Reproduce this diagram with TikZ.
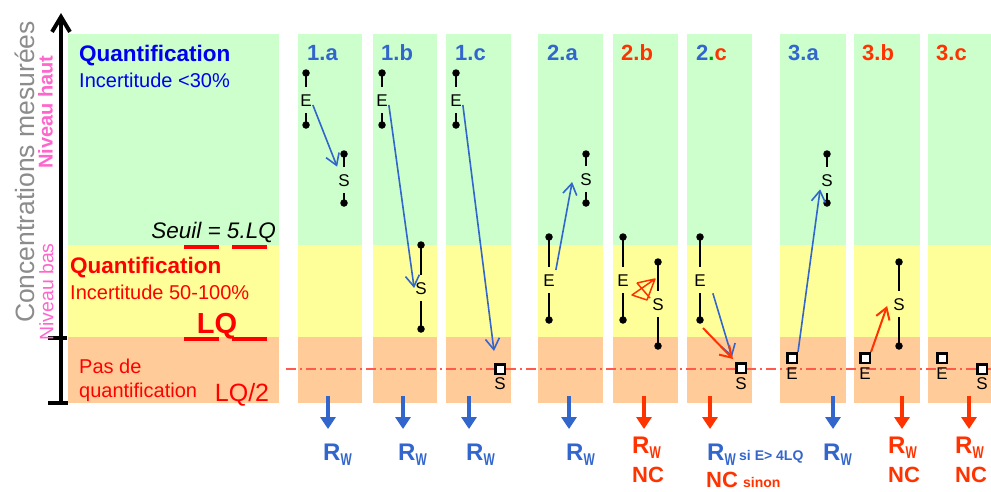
\documentclass[tikz,border=0pt]{standalone}
\usepackage{fontspec}
\setmainfont{Liberation Sans}
\usetikzlibrary{arrows.meta}
\definecolor{cgreen}{HTML}{CCFFCC}
\definecolor{cyellow}{HTML}{FFFF99}
\definecolor{corange}{HTML}{FFCC99}
\definecolor{cblue}{HTML}{3366CC}
\definecolor{cred}{HTML}{FF3300}
\definecolor{pred}{HTML}{FF0000}
\definecolor{qblue}{HTML}{0000EE}
\definecolor{cpink}{HTML}{FF66CC}
\definecolor{cgray}{HTML}{8C8C8C}
\definecolor{cdot}{HTML}{00A000}
\definecolor{dashred}{HTML}{FF5A4A}
\newcommand\fsz[1]{\fontsize{#1pt}{#1pt}\selectfont}
\newcommand\RWsym{R\raisebox{-5pt}{\fsz{17}\scalebox{0.7}[1]{W}}}
\newcommand\intv[6]{%
  \node[lett] (#1) at (#2,#4) {#6};
  \node[dotn] (#1t) at (#2,#3) {};
  \node[dotn] (#1b) at (#2,#5) {};
  \draw[seg] (#1t.center) -- (#1.north);
  \draw[seg] (#1.south) -- (#1b.center);}
\newcommand\sqv[5]{%
  \node[sq] (#1) at (#2,#3) {};
  \node[lett, inner ysep=0pt] (#1l) at (#2,#5) {#4};}
\begin{document}
\begin{tikzpicture}[x=1pt,y=-1pt,
  lett/.style={inner xsep=1pt, inner ysep=7pt, text height=12.2pt, text depth=0pt, font=\fsz{17}},
  dotn/.style={circle, fill=black, inner sep=0pt, minimum size=7.5pt},
  seg/.style={line width=2pt},
  sq/.style={draw, line width=2.5pt, fill=white, inner sep=0pt, minimum size=9.5pt},
  barr/.style={cblue, line width=1.6pt, -{Straight Barb[length=11pt,width=14pt]}},
  rarr/.style={cred, line width=2pt, -{Straight Barb[length=11pt,width=14pt]}},
  down/.style={line width=4pt, -{Triangle[length=12pt,width=15pt]}},
  collab/.style={inner sep=0pt, anchor=base west, font=\fsz{22}\bfseries},
  tx/.style={inner sep=0pt, anchor=base west},
  bl/.style={inner sep=0pt, anchor=base west, font=\fsz{24}\bfseries},
  nc/.style={inner sep=0pt, anchor=base west, font=\fsz{22}\bfseries},
  rbar/.style={pred, line width=4pt},
]
\useasboundingbox (0,0) rectangle (991,491);
\fill[white] (0,0) rectangle (991,491);

% left panel
\fill[cgreen] (68,34) rectangle (279,245);
\fill[cyellow] (68,245) rectangle (279,337);
\fill[corange] (68,337) rectangle (279,403);

% columns
\foreach \L/\R in {298/362, 372.5/437, 446/511, 538/603, 613/678, 687/752, 780/846, 854/920, 928/991} {
  \fill[cgreen] (\L,34) rectangle (\R,245);
  \fill[cyellow] (\L,245) rectangle (\R,337);
  \fill[corange] (\L,337) rectangle (\R,403);
}

% axis
\coordinate (axb) at (61,403);
\coordinate (axt) at (61,13);
\draw[line width=4pt, -{Straight Barb[length=15pt,width=18pt]}] (axb) -- (axt);
\coordinate (tk1a) at (48,403); \coordinate (tk1b) at (68,403);
\coordinate (tk2a) at (48,338); \coordinate (tk2b) at (67,338);
\draw[line width=4pt] (tk1a) -- (tk1b);
\draw[line width=4pt] (tk2a) -- (tk2b);

\node[rotate=90, inner sep=0pt, text=cgray, font=\fsz{26.5}] (conc) at (25,172) {Concentrations mesurées};
\node[rotate=90, inner sep=0pt, text=cpink, font=\fsz{20}\bfseries] (nh) at (45.5,112) {Niveau haut};
\node[rotate=90, inner sep=0pt, text=cpink, font=\fsz{19.5}] (nb) at (46.5,292) {Niveau bas};

% left panel texts
\node[tx, text=qblue, font=\fsz{22.5}\bfseries] (q1) at (79,61) {Quantification};
\node[tx, text=qblue, font=\fsz{20}] (i1) at (79,87) {Incertitude <30\%};
\node[inner sep=0pt, anchor=base east, font=\fsz{22.5}\itshape] (seuil) at (276,238) {Seuil = 5.LQ};
\node[tx, text=pred, font=\fsz{22.5}\bfseries] (q2) at (70,273) {Quantification};
\node[tx, text=pred, font=\fsz{20}] (i2) at (70,299) {Incertitude 50-100\%};
\node[inner sep=0pt, anchor=base, text=pred, font=\fsz{29}\bfseries] (lq) at (217,333) {LQ};
\node[tx, text=pred, font=\fsz{20}] (pas) at (79,373) {Pas de};
\node[tx, text=pred, font=\fsz{20}] (quant) at (79,397) {quantification};
\node[inner sep=0pt, anchor=base, text=pred, font=\fsz{25}] (lq2) at (242,401) {LQ/2};

% red bars
\coordinate (rb1) at (184,246.5); \coordinate (rb2) at (219,246.5);
\coordinate (rb3) at (232,246.5); \coordinate (rb4) at (267,246.5);
\coordinate (rb5) at (184,338.5); \coordinate (rb6) at (219,338.5);
\coordinate (rb7) at (232,338.5); \coordinate (rb8) at (267,338.5);
\draw[rbar] (rb1) -- (rb2);
\draw[rbar] (rb3) -- (rb4);
\draw[rbar] (rb5) -- (rb6);
\draw[rbar] (rb7) -- (rb8);

% dash-dot line
\coordinate (dl1) at (286,369);
\coordinate (dl2) at (991,369);
\draw[dashred, line width=1.3pt, dash pattern=on 10pt off 4pt on 2pt off 4pt] (dl1) -- (dl2);

% column labels
\node[collab, text=cblue] (l1a) at (307,60) {1.a};
\node[collab, text=cblue] (l1b) at (381,60) {1.b};
\node[collab, text=cblue] (l1c) at (455,60) {1.c};
\node[collab, text=cblue] (l2a) at (547,60) {2.a};
\node[collab, text=cred] (l2b) at (621,60) {2.b};
\node[collab] (l2c) at (696,60) {\textcolor{cblue}{2}\textcolor{cdot}{.}\textcolor{cred}{c}};
\node[collab, text=cblue] (l3a) at (788,60) {3.a};
\node[collab, text=cred] (l3b) at (862,60) {3.b};
\node[collab, text=cred] (l3c) at (936,60) {3.c};

% intervals
\intv{e1a}{306}{73}{100}{125}{E}
\intv{s1a}{344}{154}{180}{203}{S}
\intv{e1b}{382}{73}{100}{125}{E}
\intv{s1b}{421}{245}{288}{329}{S}
\intv{e1c}{456}{73}{100}{125}{E}
\sqv{s1c}{500}{369}{S}{383}
\intv{e2a}{549}{237}{280}{320}{E}
\intv{s2a}{586}{154}{179}{203}{S}
\intv{e2b}{623}{237}{280}{320}{E}
\intv{s2b}{658}{262}{304}{346}{S}
\intv{e2c}{700}{237}{280}{320}{E}
\sqv{s2c}{741}{368}{S}{383}
\sqv{e3a}{792}{358}{E}{373}
\intv{s3a}{827}{154}{180}{203}{S}
\sqv{e3b}{865}{358}{E}{373}
\intv{s3b}{899}{262}{304}{346}{S}
\sqv{e3c}{942}{358}{E}{373}
\sqv{s3c}{982}{369}{S}{383}

% transition arrows
\draw[barr] ([yshift=-5pt]e1a.east) -- (s1a.north west);
\draw[barr] ([yshift=-5pt]e1b.east) -- (s1b.west);
\draw[barr] ([yshift=-5pt]e1c.east) -- ([yshift=12pt]s1c.north west);
\draw[barr] ([yshift=10pt]e2a.east) -- ([shift={(-7pt,-3pt)}]s2a.west);
\draw[cred, line width=1.5pt, line join=round]
  (637,283) -- (655,279) -- (632,295) -- (647,300) -- (655,279)
  (637,283) -- (650,298);
\draw[barr] ([xshift=6pt]e2c.south east) -- ([shift={(-3pt,5pt)}]s2c.north west);
\draw[rarr] ([shift={(3pt,-8pt)}]e2cb.center) -- ([shift={(-2pt,3pt)}]s2c.north west);
\draw[barr] (e3a.north east) -- ([yshift=4pt]s3a.south west);
\draw[rarr] (e3b.north east) -- ([shift={(-5pt,-2pt)}]s3b.west);

% bottom arrows
\foreach \n/\x/\c in {a1/328/cblue, a2/403/cblue, a3/469/cblue, a4/569/cblue, a5/644/cred, a6/710/cred, a7/833/cblue, a8/902/cred, a9/969/cred} {
  \coordinate (\n s) at (\x,396);
  \coordinate (\n e) at (\x,429);
  \draw[down, \c] (\n s) -- (\n e);
}

% bottom labels
\node[bl, text=cblue] (r1a) at (323,460) {\RWsym};
\node[bl, text=cblue] (r1b) at (398,460) {\RWsym};
\node[bl, text=cblue] (r1c) at (466,460) {\RWsym};
\node[bl, text=cblue] (r2a) at (566,460) {\RWsym};
\node[bl, text=cred] (r2b) at (632,453) {\RWsym};
\node[nc, text=cred] (n2b) at (632,482) {NC};
\node[bl, text=cblue] (r2c) at (707,460) {\RWsym};
\node[tx, text=cblue, font=\fsz{14}\bfseries] (si) at (739,460) {si E> 4LQ};
\node[nc, text=cred] (n2c) at (706,487) {NC};
\node[tx, text=cred, font=\fsz{14}\bfseries] (sinon) at (743,487) {sinon};
\node[bl, text=cblue] (r3a) at (823,460) {\RWsym};
\node[bl, text=cred] (r3b) at (888,453) {\RWsym};
\node[nc, text=cred] (n3b) at (888,482) {NC};
\node[bl, text=cred] (r3c) at (955,453) {\RWsym};
\node[nc, text=cred] (n3c) at (955,482) {NC};
\end{tikzpicture}
\end{document}
